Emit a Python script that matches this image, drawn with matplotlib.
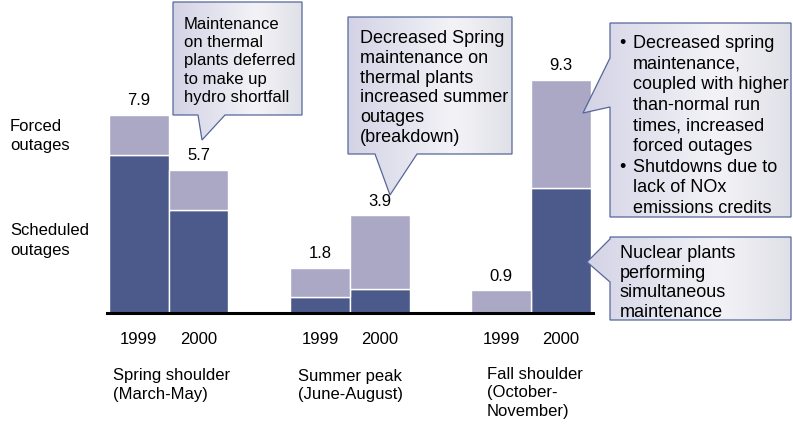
import matplotlib.pyplot as plt
import numpy as np
from matplotlib.patches import Polygon
from matplotlib.colors import LinearSegmentedColormap

plt.rcParams['font.family'] = ['Liberation Sans', 'DejaVu Sans']

# ---------------------------------------------------------------
# data (per season: 1999, 2000)
seasons = ['Spring shoulder\n(March-May)', 'Summer peak\n(June-August)',
           'Fall shoulder\n(October-\nNovember)']
years = ['1999', '2000']
scheduled = [6.3, 4.1, 0.65, 0.95, 0.0, 5.0]
forced = [1.6, 1.6, 1.15, 2.95, 0.9, 4.3]
totals = [7.9, 5.7, 1.8, 3.9, 0.9, 9.3]

DARK = '#4b5a8a'
LIGHT = '#aba8c6'
EDGE = '#56669a'

W, H = 793, 424
fig = plt.figure(figsize=(W / 100, H / 100), dpi=100)

# ---------------------------------------------------------------
# bars
ax = fig.add_axes([107 / W, (H - 313) / H, 486 / W, 250.6 / H])
x = np.array([g * 3.033 + b + 0.5 for g in range(len(seasons)) for b in range(len(years))])
ax.bar(x, scheduled, width=1, color=DARK, edgecolor='white', linewidth=1)
ax.bar(x, forced, bottom=scheduled, width=1, color=LIGHT, edgecolor='white', linewidth=1)
for xi, t in zip(x, totals):
    ax.annotate(f'{t:.1f}', (xi, t), xytext=(0, 7), textcoords='offset points',
                ha='center', va='baseline', fontsize=12)

ax.set_xlim(-0.033, 8.1)
ax.set_ylim(0, 10)
ax.set_xticks(x, years * len(seasons))
ax.tick_params(axis='x', length=0, pad=13.5, labelsize=12)
ax.set_yticks([])
for s in ['left', 'right', 'top']:
    ax.spines[s].set_visible(False)
ax.spines['bottom'].set_linewidth(2.2)

# ---------------------------------------------------------------
# overlay in pixel coordinates for labels and callouts
ov = fig.add_axes([0, 0, 1, 1], facecolor='none')
ov.axis('off')

grad = LinearSegmentedColormap.from_list(
    'box', [(0, '#d3d3e6'), (0.65, '#f3f3f7'), (1, '#e0e0e8')])


def callout(verts):
    poly = Polygon(verts, closed=True, facecolor='none', edgecolor=EDGE, lw=0.9, zorder=3)
    ov.add_patch(poly)
    xs = [v[0] for v in verts]
    ys = [v[1] for v in verts]
    img = ov.imshow(np.linspace(0, 1, 256)[None, :], cmap=grad, aspect='auto',
                    extent=(min(xs), max(xs), max(ys), min(ys)), zorder=2)
    img.set_clip_path(poly)


callout([(173, 2), (302, 2), (302, 115), (225, 115), (202, 140), (198, 115), (173, 115)])
callout([(348, 17), (512, 17), (512, 154), (417, 154), (390, 195), (375, 154), (348, 154)])
callout([(610, 23), (791, 23), (791, 217), (610, 217), (610, 107), (583, 113), (610, 58)])
callout([(610, 237), (791, 237), (791, 320), (610, 320), (610, 282), (587, 262), (610, 239)])

ov.text(184, 61, 'Maintenance\non thermal\nplants deferred\nto make up\nhydro shortfall',
        fontsize=12, va='center', linespacing=1.26, zorder=4)
ov.text(360, 88, 'Decreased Spring\nmaintenance on\nthermal plants\nincreased summer\noutages\n(breakdown)',
        fontsize=13, va='center', linespacing=1.21, zorder=4)
ov.text(633, 126, 'Decreased spring\nmaintenance,\ncoupled with higher\nthan-normal run\n'
        'times, increased\nforced outages\nShutdowns due to\nlack of NOx\nemissions credits',
        fontsize=13, va='center', linespacing=1.28, zorder=4)
ov.text(619, 126, '•\n\n\n\n\n\n•\n\n', fontsize=13, va='center', linespacing=1.28, zorder=4)
ov.text(620, 283, 'Nuclear plants\nperforming\nsimultaneous\nmaintenance',
        fontsize=13, va='center', linespacing=1.21, zorder=4)

# left legend-like labels
ov.text(10, 136, 'Forced\noutages', fontsize=12, va='center', linespacing=1.36)
ov.text(10, 240.5, 'Scheduled\noutages', fontsize=12, va='center', linespacing=1.36)

# season labels
for sx, sy, name in zip([113, 298, 487], [385, 385.5, 393], seasons):
    ov.text(sx, sy, name, fontsize=12, va='center', linespacing=1.3)

ov.set_xlim(0, W)
ov.set_ylim(H, 0)

fig.savefig('out.png', dpi=100)
